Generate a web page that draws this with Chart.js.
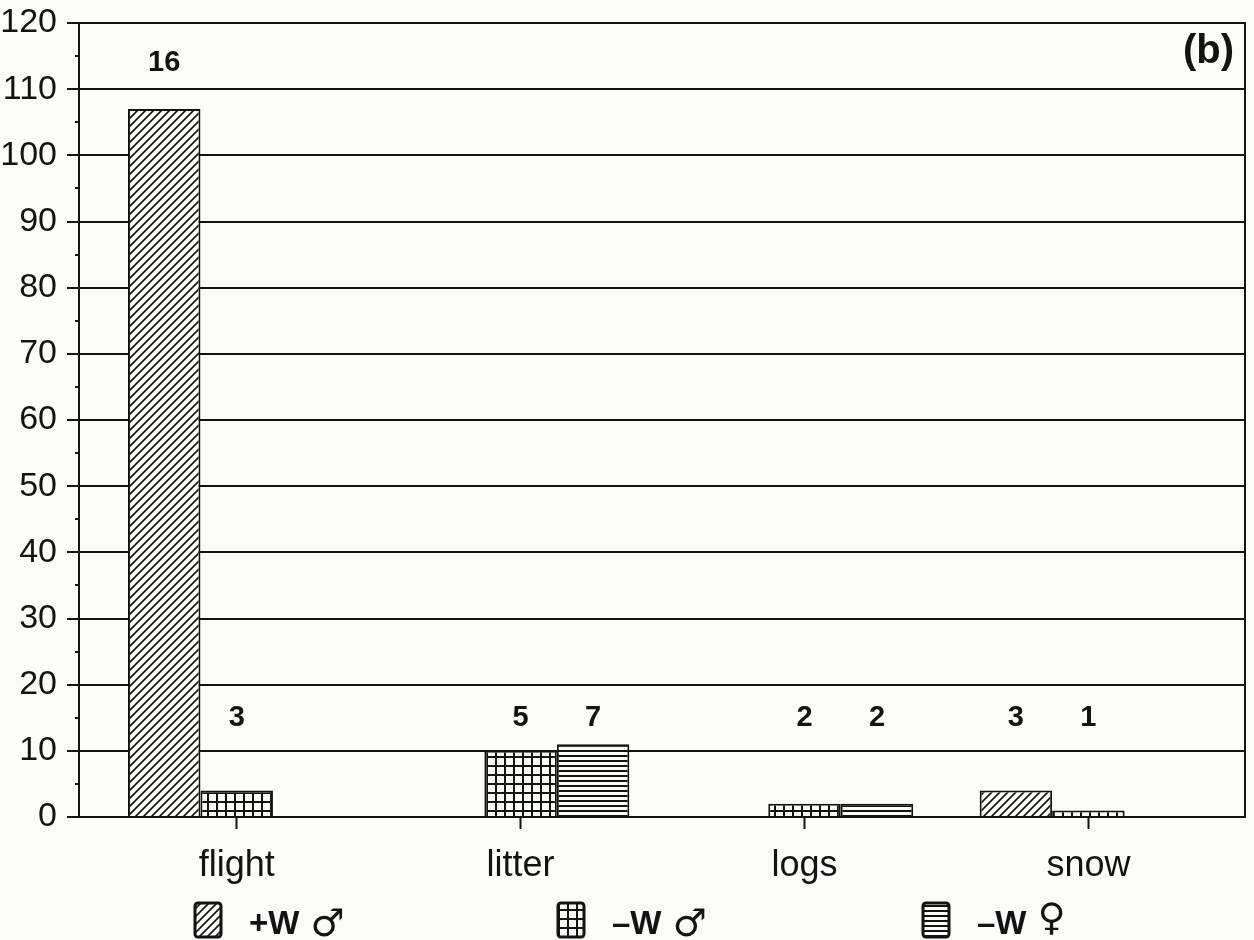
<!DOCTYPE html>
<html>
<head>
<meta charset="utf-8">
<script src="https://cdn.jsdelivr.net/npm/chart.js@4.4.1/dist/chart.umd.min.js"></script>
<style>
  html, body { margin: 0; padding: 0; background: #fbfbf8; }
  canvas { display: block; }
</style>
</head>
<body>
<canvas id="chart" width="1254" height="940"></canvas>
<script>
// Categories along the x axis
const categories = ['flight', 'litter', 'logs', 'snow'];

// Series names
const seriesNames = ['+W \u2642', '\u2013W \u2642', '\u2013W \u2640'];

// Bar heights per category (null = no bar)
const plusWMale    = [107, null, null, 4];
const minusWMale   = [4, 10, 2, 1];
const minusWFemale = [null, 11, 2, null];

// Sample sizes printed above the bars
const nPlusWMale    = [16, null, null, 3];
const nMinusWMale   = [3, 5, 2, 1];
const nMinusWFemale = [null, 7, 2, null];

// Y axis tick values
const yTickValues = [0, 10, 20, 30, 40, 50, 60, 70, 80, 90, 100, 110, 120];
const yMinorTickValues = [5, 15, 25, 35, 45, 55, 65, 75, 85, 95, 105, 115];

const INK = '#131313';
const PAPER = '#fbfbf8';
const FONT = '"Liberation Sans", "DejaVu Sans", Arial, sans-serif';
const SYMBOL_FONT = '"DejaVu Sans", "Noto Sans", sans-serif';

function makeTile(w, h, draw) {
  const c = document.createElement('canvas');
  c.width = w; c.height = h;
  const g = c.getContext('2d');
  g.fillStyle = PAPER;
  g.fillRect(0, 0, w, h);
  g.fillStyle = INK;
  g.strokeStyle = INK;
  draw(g, w, h);
  return g.createPattern(c, 'repeat');
}

// diagonal hatching "/"
const hatch = makeTile(8, 8, (g, w, h) => {
  g.lineWidth = 1.6;
  g.beginPath();
  g.moveTo(0, h); g.lineTo(w, 0);
  g.moveTo(-2, 2); g.lineTo(2, -2);
  g.moveTo(w - 2, h + 2); g.lineTo(w + 2, h - 2);
  g.stroke();
});
// square grid
const grid = makeTile(9, 9, (g, w, h) => {
  g.fillRect(0, 0, 2, h);
  g.fillRect(0, 0, w, 2);
});
// horizontal rules
const rules = makeTile(5, 5, (g, w, h) => {
  g.fillRect(0, 0, w, 2);
});

const patterns = [hatch, grid, rules];
const seriesValues = [plusWMale, minusWMale, minusWFemale];
const seriesN = [nPlusWMale, nMinusWMale, nMinusWFemale];

const datasets = seriesValues.map((vals, s) => ({
  label: seriesNames[s],
  data: vals.map((v, i) => ({ x: i, y: v })),
  backgroundColor: patterns[s],
  borderColor: INK,
  borderWidth: 2,
  categoryPercentage: 0.766,
  barPercentage: 1.0,
  sampleSizes: seriesN[s]
}));

// short minor ticks at the half steps + right frame edge
const framePlugin = {
  id: 'frame',
  afterDraw(chart) {
    const { ctx, chartArea } = chart;
    const y = chart.scales.y;
    ctx.save();
    ctx.strokeStyle = INK;
    ctx.lineWidth = 2;
    ctx.beginPath();
    ctx.moveTo(chartArea.right, chartArea.top - 1);
    ctx.lineTo(chartArea.right, chartArea.bottom + 1);
    yMinorTickValues.forEach(v => {
      const py = Math.round(y.getPixelForValue(v));
      ctx.moveTo(chartArea.left - 4, py);
      ctx.lineTo(chartArea.left, py);
    });
    ctx.stroke();
    ctx.restore();
  }
};

// sample sizes above bars
const nLabelPlugin = {
  id: 'nLabels',
  afterDatasetsDraw(chart) {
    const { ctx } = chart;
    const y = chart.scales.y;
    ctx.save();
    ctx.fillStyle = INK;
    ctx.font = 'bold 29px ' + FONT;
    ctx.textAlign = 'center';
    ctx.textBaseline = 'middle';
    chart.data.datasets.forEach((ds, s) => {
      const meta = chart.getDatasetMeta(s);
      ds.sampleSizes.forEach((n, i) => {
        if (n === null) return;
        const v = ds.data[i].y || 0;
        const level = v > 15 ? v + 7 : 15;
        ctx.fillText(String(n), meta.data[i].x, y.getPixelForValue(level));
      });
    });
    ctx.restore();
  }
};

// panel tag in the top right corner
const tagPlugin = {
  id: 'panelTag',
  afterDraw(chart) {
    const { ctx, chartArea } = chart;
    ctx.save();
    ctx.fillStyle = INK;
    ctx.font = 'bold 40px ' + FONT;
    ctx.textAlign = 'right';
    ctx.textBaseline = 'middle';
    ctx.fillText('(b)', chartArea.right - 11, chartArea.top + 29);
    ctx.restore();
  }
};

// legend row along the bottom
const legendPlugin = {
  id: 'legendRow',
  afterDraw(chart) {
    const { ctx } = chart;
    const starts = [195, 558, 923];
    ctx.save();
    chart.data.datasets.forEach((ds, s) => {
      const bx = starts[s], by = 903, bw = 26, bh = 34;
      ctx.beginPath();
      ctx.roundRect(bx, by, bw, bh, 3);
      ctx.fillStyle = ds.backgroundColor;
      ctx.fill();
      ctx.lineWidth = 3;
      ctx.strokeStyle = INK;
      ctx.stroke();

      const parts = ds.label.split(' ');
      ctx.fillStyle = INK;
      ctx.textAlign = 'left';
      ctx.textBaseline = 'alphabetic';
      ctx.font = 'bold 33px ' + FONT;
      const tx = bx + 54;
      ctx.fillText(parts[0], tx, 934);
      const w = ctx.measureText(parts[0] + ' ').width;
      ctx.font = 'bold 38px ' + SYMBOL_FONT;
      ctx.fillText(parts[1], tx + w + 2, parts[1] === '\u2640' ? 930 : 936);
    });
    ctx.restore();
  }
};

Chart.defaults.font.family = FONT;
Chart.defaults.color = INK;

new Chart(document.getElementById('chart'), {
  type: 'bar',
  data: { datasets },
  plugins: [framePlugin, nLabelPlugin, tagPlugin, legendPlugin],
  options: {
    responsive: false,
    animation: false,
    devicePixelRatio: 1,
    layout: { padding: { top: 23, right: 9, bottom: 0, left: 0 } },
    plugins: { legend: { display: false }, tooltip: { enabled: false } },
    scales: {
      x: {
        type: 'linear',
        min: -0.5555,
        max: 3.5516,
        offset: false,
        afterBuildTicks: scale => { scale.ticks = categories.map((_, i) => ({ value: i })); },
        afterFit: scale => { scale.height = 123; },
        ticks: {
          callback: v => categories[v] ?? '',
          font: { size: 36 },
          color: INK,
          padding: 15,
          maxRotation: 0,
          autoSkip: false
        },
        grid: {
          offset: false,
          drawOnChartArea: false,
          drawTicks: true,
          tickLength: 12,
          tickColor: INK,
          tickWidth: 2
        },
        border: { display: true, color: INK, width: 2 }
      },
      y: {
        min: 0,
        max: 120,
        afterBuildTicks: scale => { scale.ticks = yTickValues.map(v => ({ value: v })); },
        afterFit: scale => {
          scale.width = 79;
          scale.paddingTop = 0;
          scale.paddingBottom = 0;
        },
        ticks: {
          font: { size: 34 },
          color: INK,
          padding: 10
        },
        grid: {
          color: INK,
          lineWidth: 2,
          drawTicks: true,
          tickLength: 12,
          tickColor: INK,
          tickWidth: 2
        },
        border: { display: true, color: INK, width: 2 }
      }
    }
  }
});
</script>
</body>
</html>
